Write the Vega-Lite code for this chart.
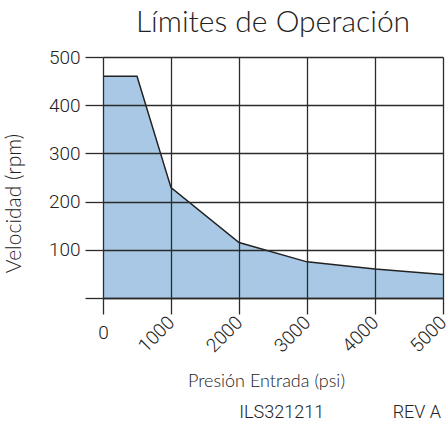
{
  "$schema": "https://vega.github.io/schema/vega-lite/v6.json",
  "width": 340,
  "height": 241,
  "autosize": {"type": "none"},
  "padding": {"left": 103, "top": 57, "right": 5, "bottom": 127},
  "background": "white",
  "title": {"text": "Límites de Operación", "font": "Lato", "fontSize": 30, "fontWeight": 300, "color": "#222222", "anchor": "middle", "offset": 10},
  "config": {"view": {"stroke": null}},
  "resolve": {"axis": {"x": "independent"}},
  "layer": [
    {
      "data": {"values": [
        {"presion": 0, "velocidad": 460},
        {"presion": 500, "velocidad": 460},
        {"presion": 1000, "velocidad": 229},
        {"presion": 2000, "velocidad": 115},
        {"presion": 3000, "velocidad": 75},
        {"presion": 4000, "velocidad": 60},
        {"presion": 5000, "velocidad": 49}
      ]},
      "mark": {"type": "area", "color": "#a9c8e6", "opacity": 1, "line": {"color": "#222222", "strokeWidth": 1.5}},
      "encoding": {
        "x": {
          "field": "presion", "type": "quantitative",
          "scale": {"domain": [0, 5000], "nice": false, "zero": true},
          "axis": {
            "orient": "bottom",
            "values": [1000, 2000, 3000, 4000, 5000],
            "format": "d",
            "grid": true, "gridColor": "#2b2b2b", "gridWidth": 1.3, "gridOpacity": 1,
            "domainColor": "#2b2b2b", "domainWidth": 1.3,
            "ticks": true, "tickColor": "#2b2b2b", "tickWidth": 1.3, "tickSize": 16, "tickOpacity": 1,
            "labelFont": "Roboto", "labelFontSize": 19, "labelFontWeight": 300, "labelColor": "#222222",
            "labelAngle": -45, "labelAlign": "right", "labelBaseline": "middle", "labelPadding": 5, "labelFlush": false, "labelOverlap": false,
            "title": "Presión Entrada (psi)",
            "titleFont": "Lato", "titleFontSize": 18, "titleFontWeight": 300, "titleColor": "#222222",
            "titleX": 163, "titleY": 88, "titleBaseline": "alphabetic", "titleAlign": "center",
            "zindex": 1
          }
        },
        "y": {
          "field": "velocidad", "type": "quantitative",
          "scale": {"domain": [0, 500], "nice": false},
          "axis": {
            "values": [0, 100, 200, 300, 400, 500],
            "labelExpr": "datum.value === 0 ? '' : datum.label",
            "grid": true, "gridColor": "#2b2b2b", "gridWidth": 1.3, "gridOpacity": 1,
            "domainColor": "#2b2b2b", "domainWidth": 1.3,
            "ticks": true, "tickColor": "#2b2b2b", "tickWidth": 1.3, "tickSize": 18, "tickOpacity": 1,
            "labelFont": "Roboto", "labelFontSize": 19, "labelFontWeight": 300, "labelColor": "#222222",
            "labelPadding": 5,
            "title": "Velocidad (rpm)",
            "titleFont": "Lato", "titleFontSize": 21, "titleFontWeight": 300, "titleColor": "#222222",
            "titleX": -89, "titleY": 146, "titleAlign": "center", "titleBaseline": "middle", "titleAngle": -90,
            "zindex": 1
          }
        }
      }
    },
    {
      "data": {"values": [{"t": "ILS321211"}]},
      "mark": {"type": "text", "font": "Roboto", "fontSize": 18, "fontWeight": 300, "color": "#222222", "align": "center", "baseline": "middle"},
      "encoding": {
        "text": {"field": "t"},
        "x": {
          "datum": 2628, "type": "quantitative",
          "axis": {
            "orient": "bottom",
            "values": [0],
            "format": "d",
            "grid": false, "domain": false,
            "ticks": true, "tickColor": "#2b2b2b", "tickWidth": 1.3, "tickSize": 16, "tickOpacity": 1,
            "labelFont": "Roboto", "labelFontSize": 19, "labelFontWeight": 300, "labelColor": "#222222",
            "labelAngle": 0, "labelAlign": "center", "labelBaseline": "top", "labelPadding": 9, "labelFlush": false,
            "title": null,
            "zindex": 1
          }
        },
        "y": {"datum": -239}
      }
    },
    {
      "data": {"values": [{"t": "REV A"}]},
      "mark": {"type": "text", "font": "Roboto", "fontSize": 18, "fontWeight": 300, "color": "#222222", "align": "left", "baseline": "middle"},
      "encoding": {
        "text": {"field": "t"},
        "x": {"datum": 4260, "type": "quantitative", "axis": null},
        "y": {"datum": -239}
      }
    }
  ]
}
